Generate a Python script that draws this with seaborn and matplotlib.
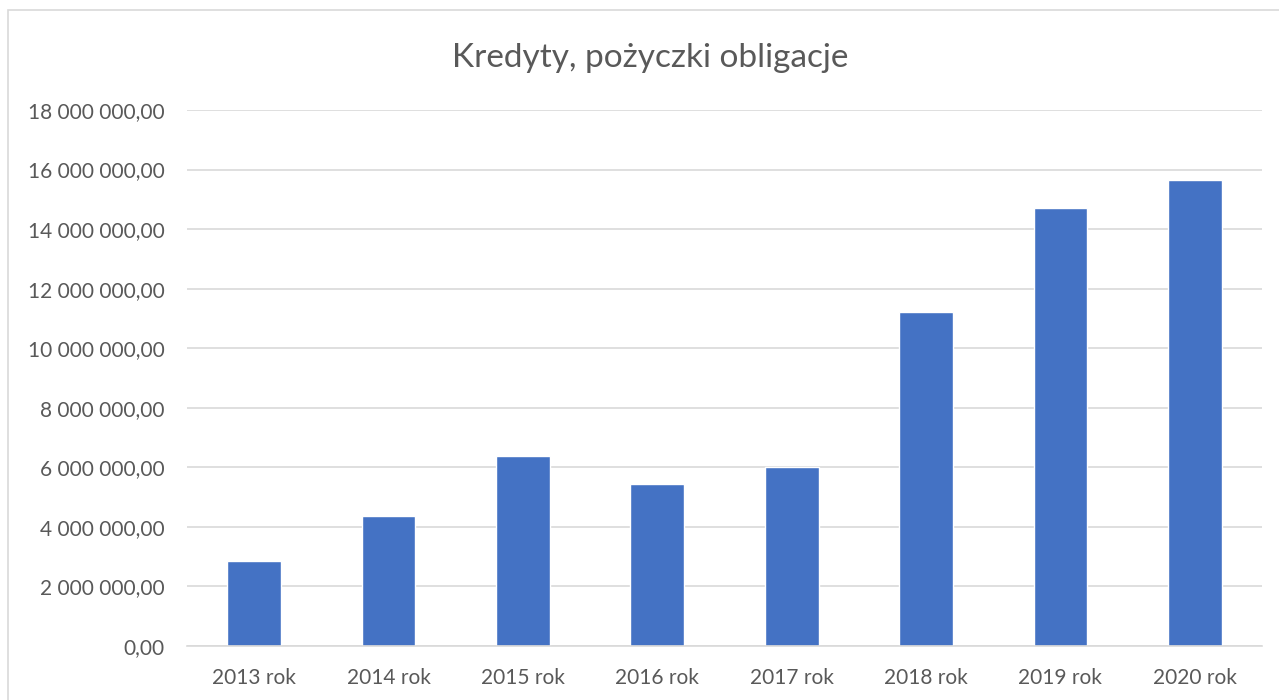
import matplotlib
matplotlib.use("Agg")
import matplotlib.pyplot as plt
import matplotlib.ticker as mticker
from matplotlib.patches import Rectangle
import pandas as pd
import seaborn as sns

# dane
lata = ["2013 rok", "2014 rok", "2015 rok", "2016 rok",
        "2017 rok", "2018 rok", "2019 rok", "2020 rok"]
kwoty = [2850000, 4370000, 6390000, 5440000,
         6020000, 11210000, 14720000, 15660000]
tytul = "Kredyty, pożyczki obligacje"

df = pd.DataFrame({"rok": lata, "kwota": kwoty})

sns.set_theme(style="white")
plt.rcParams['font.family'] = ['Lato', 'DejaVu Sans']

fig = plt.figure(figsize=(12.79, 7), dpi=100)
ax = fig.add_axes([187 / 1279, 1 - 646 / 700, (1262 - 187) / 1279, (646 - 110) / 700])

# ramka wykresu
fig.patches.append(Rectangle((8 / 1279, -0.01), 1.0, 1 - 10 / 700 + 0.01,
                             transform=fig.transFigure, fill=False,
                             edgecolor="#D9D9D9", linewidth=1.2))

sns.barplot(data=df, x="rok", y="kwota", color="#4472C4", saturation=1,
            width=0.4, ax=ax)

ax.set_ylim(0, 18000000)
ax.set_yticks(range(0, 18000001, 2000000))


def fmt(v, pos):
    s = f"{int(round(v)):,}".replace(",", " ")
    return s + ",00"


ax.yaxis.set_major_formatter(mticker.FuncFormatter(fmt))
ax.yaxis.grid(True, color="#D9D9D9", linewidth=1.2)
ax.set_axisbelow(True)
for s in ["top", "right", "left"]:
    ax.spines[s].set_visible(False)
ax.spines["bottom"].set_color("#D9D9D9")
ax.spines["bottom"].set_linewidth(1.2)
ax.tick_params(axis="both", length=0, labelsize=15, colors="#595959")
ax.tick_params(axis="y", pad=16)
ax.tick_params(axis="x", pad=16)
ax.set_xlabel("")
ax.set_ylabel("")

fig.text(650 / 1279, 1 - 58 / 700, tytul, ha="center", va="center",
         fontsize=24, color="#595959")

fig.savefig("out.png", dpi=100)
